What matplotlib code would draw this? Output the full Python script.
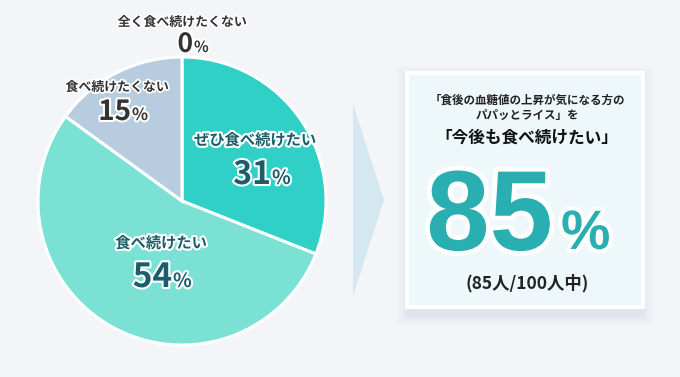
import matplotlib
matplotlib.use("Agg")
import matplotlib.pyplot as plt
import matplotlib.patheffects as pe
from matplotlib.patches import Rectangle, Polygon

plt.rcParams['font.family'] = ['Noto Sans CJK JP', 'DejaVu Sans']

# ---- data ----
categories = ["ぜひ食べ続けたい", "食べ続けたい", "食べ続けたくない", "全く食べ続けたくない"]
values = [31, 54, 15, 0]
slice_colors = ["#30d0c6", "#7be1d5", "#b8cce0", "#d0d0d0"]
summary_value = 85
summary_count = "(85人/100人中)"
summary_line1 = "「食後の血糖値の上昇が気になる方の"
summary_line2 = "パパッとライス」を"
summary_line3 = "「今後も食べ続けたい」"

W, H = 680, 377
BG = "#f3f5f9"
fig = plt.figure(figsize=(W / 100, H / 100), dpi=100, facecolor=BG)

# overlay axes in pixel coordinates
ov = fig.add_axes([0, 0, 1, 1], zorder=0)
ov.set_xlim(0, W)
ov.set_ylim(H, 0)
ov.axis("off")

# arrow
ov.add_patch(Polygon([(353, 104), (384, 200), (353, 296)], closed=True,
                     facecolor="#d5e8f0", edgecolor="none"))

# box shadow
for i, a in enumerate([0.035, 0.03, 0.025, 0.02, 0.015, 0.01]):
    d = 2 + i * 2
    ov.add_patch(Rectangle((405 - d + 3, 71 - d + 6), 240 + 2 * d - 6, 238 + 2 * d,
                           facecolor="#8090a8", alpha=a, edgecolor="none"))
ov.add_patch(Rectangle((405, 71), 240, 238, facecolor="white", edgecolor="none"))
ov.add_patch(Rectangle((409, 75), 232, 230, facecolor="#eef7fa", edgecolor="none"))

# pie axes
cx, cy, r = 182, 201, 144
pax = fig.add_axes([(cx - r) / W, (H - cy - r) / H, 2 * r / W, 2 * r / H], zorder=1)
pv = [v for v in values if v > 0]
pc = [c for v, c in zip(values, slice_colors) if v > 0]
wedges, _ = pax.pie(pv, colors=pc, startangle=90, counterclock=False,
                    wedgeprops=dict(edgecolor="white", linewidth=2.2))
for w in wedges:
    w.set_clip_on(False)
pax.set_xlim(-1, 1)
pax.set_ylim(-1, 1)
pax.set_aspect("equal")
pax.axis("off")

# text overlay axes above pie
tx = fig.add_axes([0, 0, 1, 1], zorder=2)
tx.set_xlim(0, W)
tx.set_ylim(H, 0)
tx.axis("off")
tx.patch.set_alpha(0)

DARK = "#1b5d6a"
GREY = "#333333"

def outlined(w):
    return [pe.withStroke(linewidth=w, foreground="white")]

def pct(x, y, val, size, color, psize, stroke=3):
    tx.text(x, y, str(val), ha="right", va="baseline", fontsize=size, fontweight="bold",
            color=color, path_effects=outlined(stroke))
    tx.text(x + 1, y, "%", ha="left", va="baseline", fontsize=psize, fontweight="bold",
            color=color, path_effects=outlined(stroke))

tx.text(182, 22, categories[3], ha="center", va="center", fontsize=9.3, fontweight="bold",
        color=GREY, path_effects=outlined(2.5))
pct(193, 52, values[3], 19, GREY, 11)

tx.text(117, 87, categories[2], ha="center", va="center", fontsize=9.3, fontweight="bold",
        color=GREY, path_effects=outlined(2.5))
pct(131, 120, values[2], 20, GREY, 12)

tx.text(255, 140, categories[0], ha="center", va="center", fontsize=11, fontweight="bold",
        color=DARK, path_effects=outlined(3))
pct(271, 184, values[0], 23, DARK, 14)

tx.text(161, 243, categories[1], ha="center", va="center", fontsize=11, fontweight="bold",
        color=DARK, path_effects=outlined(3))
pct(172, 287, values[1], 24, DARK, 14)

# summary box text
tx.text(527, 100, summary_line1, ha="center", va="center", fontsize=8.3, fontweight="bold", color="#222222")
tx.text(527, 115, summary_line2, ha="center", va="center", fontsize=8.3, fontweight="bold", color="#222222")
tx.text(527, 138, summary_line3, ha="center", va="center", fontsize=12, fontweight="bold",
        color="#111111")
TEAL = "#29aeb2"
tx.text(553, 250, str(summary_value), ha="right", va="baseline", fontsize=82, fontweight="bold",
        family=["Liberation Sans", "DejaVu Sans"],
        color=TEAL, path_effects=outlined(7))
tx.text(561, 249, "%", ha="left", va="baseline", fontsize=40, fontweight="bold",
        family=["Liberation Sans", "DejaVu Sans"],
        color=TEAL, path_effects=outlined(6))
tx.text(527, 283, summary_count, ha="center", va="center", fontsize=12.5, fontweight="bold",
        color="#222222")

fig.savefig("out.png", dpi=100, facecolor=BG)
